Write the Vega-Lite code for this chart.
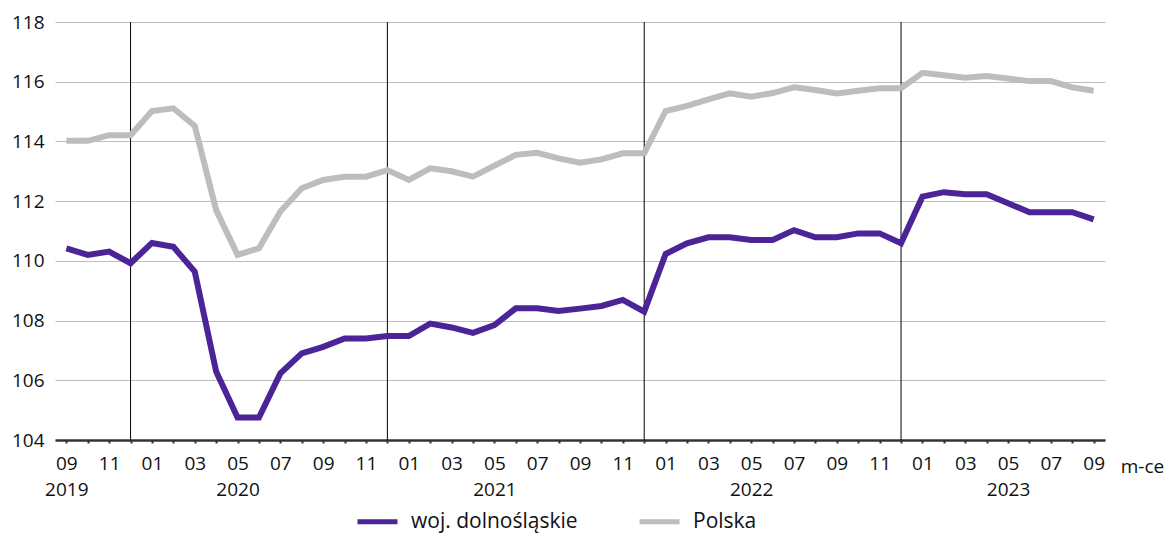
{
  "$schema": "https://vega.github.io/schema/vega-lite/v6.json",
  "width": 1050,
  "height": 418,
  "autosize": {"type": "none"},
  "padding": {"left": 55, "top": 22, "right": 63, "bottom": 95},
  "background": "#ffffff",
  "config": {
    "font": "Open Sans",
    "view": {"stroke": null}
  },
  "datasets": {
    "series": [
      {"date": "2019-09", "series": "woj. dolnośląskie", "value": 110.42},
      {"date": "2019-10", "series": "woj. dolnośląskie", "value": 110.2},
      {"date": "2019-11", "series": "woj. dolnośląskie", "value": 110.31},
      {"date": "2019-12", "series": "woj. dolnośląskie", "value": 109.92},
      {"date": "2020-01", "series": "woj. dolnośląskie", "value": 110.6},
      {"date": "2020-02", "series": "woj. dolnośląskie", "value": 110.47},
      {"date": "2020-03", "series": "woj. dolnośląskie", "value": 109.64},
      {"date": "2020-04", "series": "woj. dolnośląskie", "value": 106.29},
      {"date": "2020-05", "series": "woj. dolnośląskie", "value": 104.75},
      {"date": "2020-06", "series": "woj. dolnośląskie", "value": 104.75},
      {"date": "2020-07", "series": "woj. dolnośląskie", "value": 106.23},
      {"date": "2020-08", "series": "woj. dolnośląskie", "value": 106.9},
      {"date": "2020-09", "series": "woj. dolnośląskie", "value": 107.12},
      {"date": "2020-10", "series": "woj. dolnośląskie", "value": 107.4},
      {"date": "2020-11", "series": "woj. dolnośląskie", "value": 107.4},
      {"date": "2020-12", "series": "woj. dolnośląskie", "value": 107.48},
      {"date": "2021-01", "series": "woj. dolnośląskie", "value": 107.48},
      {"date": "2021-02", "series": "woj. dolnośląskie", "value": 107.9},
      {"date": "2021-03", "series": "woj. dolnośląskie", "value": 107.77},
      {"date": "2021-04", "series": "woj. dolnośląskie", "value": 107.59},
      {"date": "2021-05", "series": "woj. dolnośląskie", "value": 107.85},
      {"date": "2021-06", "series": "woj. dolnośląskie", "value": 108.41},
      {"date": "2021-07", "series": "woj. dolnośląskie", "value": 108.41},
      {"date": "2021-08", "series": "woj. dolnośląskie", "value": 108.32},
      {"date": "2021-09", "series": "woj. dolnośląskie", "value": 108.4},
      {"date": "2021-10", "series": "woj. dolnośląskie", "value": 108.49},
      {"date": "2021-11", "series": "woj. dolnośląskie", "value": 108.69},
      {"date": "2021-12", "series": "woj. dolnośląskie", "value": 108.3},
      {"date": "2022-01", "series": "woj. dolnośląskie", "value": 110.23},
      {"date": "2022-02", "series": "woj. dolnośląskie", "value": 110.59},
      {"date": "2022-03", "series": "woj. dolnośląskie", "value": 110.79},
      {"date": "2022-04", "series": "woj. dolnośląskie", "value": 110.79},
      {"date": "2022-05", "series": "woj. dolnośląskie", "value": 110.7},
      {"date": "2022-06", "series": "woj. dolnośląskie", "value": 110.7},
      {"date": "2022-07", "series": "woj. dolnośląskie", "value": 111.03},
      {"date": "2022-08", "series": "woj. dolnośląskie", "value": 110.79},
      {"date": "2022-09", "series": "woj. dolnośląskie", "value": 110.79},
      {"date": "2022-10", "series": "woj. dolnośląskie", "value": 110.92},
      {"date": "2022-11", "series": "woj. dolnośląskie", "value": 110.92},
      {"date": "2022-12", "series": "woj. dolnośląskie", "value": 110.59},
      {"date": "2023-01", "series": "woj. dolnośląskie", "value": 112.15},
      {"date": "2023-02", "series": "woj. dolnośląskie", "value": 112.3},
      {"date": "2023-03", "series": "woj. dolnośląskie", "value": 112.23},
      {"date": "2023-04", "series": "woj. dolnośląskie", "value": 112.23},
      {"date": "2023-05", "series": "woj. dolnośląskie", "value": 111.93},
      {"date": "2023-06", "series": "woj. dolnośląskie", "value": 111.63},
      {"date": "2023-07", "series": "woj. dolnośląskie", "value": 111.63},
      {"date": "2023-08", "series": "woj. dolnośląskie", "value": 111.63},
      {"date": "2023-09", "series": "woj. dolnośląskie", "value": 111.39},
      {"date": "2019-09", "series": "Polska", "value": 114.02},
      {"date": "2019-10", "series": "Polska", "value": 114.02},
      {"date": "2019-11", "series": "Polska", "value": 114.21},
      {"date": "2019-12", "series": "Polska", "value": 114.21},
      {"date": "2020-01", "series": "Polska", "value": 115.02},
      {"date": "2020-02", "series": "Polska", "value": 115.11},
      {"date": "2020-03", "series": "Polska", "value": 114.52},
      {"date": "2020-04", "series": "Polska", "value": 111.7},
      {"date": "2020-05", "series": "Polska", "value": 110.2},
      {"date": "2020-06", "series": "Polska", "value": 110.42},
      {"date": "2020-07", "series": "Polska", "value": 111.65},
      {"date": "2020-08", "series": "Polska", "value": 112.43},
      {"date": "2020-09", "series": "Polska", "value": 112.71},
      {"date": "2020-10", "series": "Polska", "value": 112.82},
      {"date": "2020-11", "series": "Polska", "value": 112.82},
      {"date": "2020-12", "series": "Polska", "value": 113.04},
      {"date": "2021-01", "series": "Polska", "value": 112.71},
      {"date": "2021-02", "series": "Polska", "value": 113.1},
      {"date": "2021-03", "series": "Polska", "value": 113.0},
      {"date": "2021-04", "series": "Polska", "value": 112.82},
      {"date": "2021-05", "series": "Polska", "value": 113.19},
      {"date": "2021-06", "series": "Polska", "value": 113.55},
      {"date": "2021-07", "series": "Polska", "value": 113.62},
      {"date": "2021-08", "series": "Polska", "value": 113.43},
      {"date": "2021-09", "series": "Polska", "value": 113.29},
      {"date": "2021-10", "series": "Polska", "value": 113.4},
      {"date": "2021-11", "series": "Polska", "value": 113.6},
      {"date": "2021-12", "series": "Polska", "value": 113.6},
      {"date": "2022-01", "series": "Polska", "value": 115.02},
      {"date": "2022-02", "series": "Polska", "value": 115.19},
      {"date": "2022-03", "series": "Polska", "value": 115.41},
      {"date": "2022-04", "series": "Polska", "value": 115.61},
      {"date": "2022-05", "series": "Polska", "value": 115.5},
      {"date": "2022-06", "series": "Polska", "value": 115.62},
      {"date": "2022-07", "series": "Polska", "value": 115.81},
      {"date": "2022-08", "series": "Polska", "value": 115.72},
      {"date": "2022-09", "series": "Polska", "value": 115.61},
      {"date": "2022-10", "series": "Polska", "value": 115.7},
      {"date": "2022-11", "series": "Polska", "value": 115.78},
      {"date": "2022-12", "series": "Polska", "value": 115.78},
      {"date": "2023-01", "series": "Polska", "value": 116.3},
      {"date": "2023-02", "series": "Polska", "value": 116.22},
      {"date": "2023-03", "series": "Polska", "value": 116.13},
      {"date": "2023-04", "series": "Polska", "value": 116.19},
      {"date": "2023-05", "series": "Polska", "value": 116.11},
      {"date": "2023-06", "series": "Polska", "value": 116.02},
      {"date": "2023-07", "series": "Polska", "value": 116.02},
      {"date": "2023-08", "series": "Polska", "value": 115.81},
      {"date": "2023-09", "series": "Polska", "value": 115.7}
    ],
    "breaks": [
      {"date": "2019-12"},
      {"date": "2020-12"},
      {"date": "2021-12"},
      {"date": "2022-12"}
    ]
  },
  "encoding": {
    "x": {
      "field": "date",
      "type": "ordinal",
      "scale": {"type": "point", "padding": 0.53},
      "axis": {
        "title": "m-ce",
        "titleFontWeight": "normal",
        "titleFontSize": 19,
        "titleColor": "#111111",
        "titleAngle": 0,
        "titleX": 1087,
        "titleY": 26,
        "titleAlign": "center",
        "titleBaseline": "middle",
        "labelAngle": 0,
        "labelFontSize": 19,
        "labelColor": "#111111",
        "labelPadding": 11,
        "labelLineHeight": 26,
        "labelOverlap": false,
        "labelFlush": false,
        "labelExpr": "parseInt(substring(datum.value,5,7)) % 2 == 1 ? ((datum.value == '2019-09' || substring(datum.value,5,7) == '05') ? [substring(datum.value,5,7), substring(datum.value,0,4)] : substring(datum.value,5,7)) : ''",
        "ticks": true,
        "tickSize": 3,
        "tickWidth": 2,
        "tickColor": "#333333",
        "domainColor": "#333333",
        "domainWidth": 2.5,
        "grid": false
      }
    }
  },
  "layer": [
    {
      "data": {"name": "breaks"},
      "mark": {"type": "rule", "color": "#000000", "strokeWidth": 1}
    },
    {
      "data": {"name": "series"},
      "mark": {"type": "line", "strokeWidth": 6, "strokeJoin": "miter"},
      "encoding": {
        "y": {
          "field": "value",
          "type": "quantitative",
          "scale": {"domain": [104, 118], "zero": false, "nice": false},
          "axis": {
            "title": null,
            "values": [104, 106, 108, 110, 112, 114, 116, 118],
            "labelFontSize": 19,
            "labelColor": "#111111",
            "labelPadding": 11,
            "ticks": false,
            "domain": false,
            "grid": true,
            "gridColor": "#bdbdbd",
            "gridWidth": 1
          }
        },
        "color": {
          "field": "series",
          "type": "nominal",
          "scale": {"domain": ["woj. dolnośląskie", "Polska"], "range": ["#4b2597", "#bdbdbd"]},
          "legend": {
            "orient": "none",
            "legendX": 300,
            "legendY": 477,
            "direction": "horizontal",
            "title": null,
            "symbolType": "stroke",
            "symbolSize": 1600,
            "symbolStrokeWidth": 5,
            "labelFontSize": 21,
            "labelLimit": 400,
            "labelColor": "#111111",
            "labelOffset": 11,
            "columnPadding": 51
          }
        }
      }
    }
  ]
}
